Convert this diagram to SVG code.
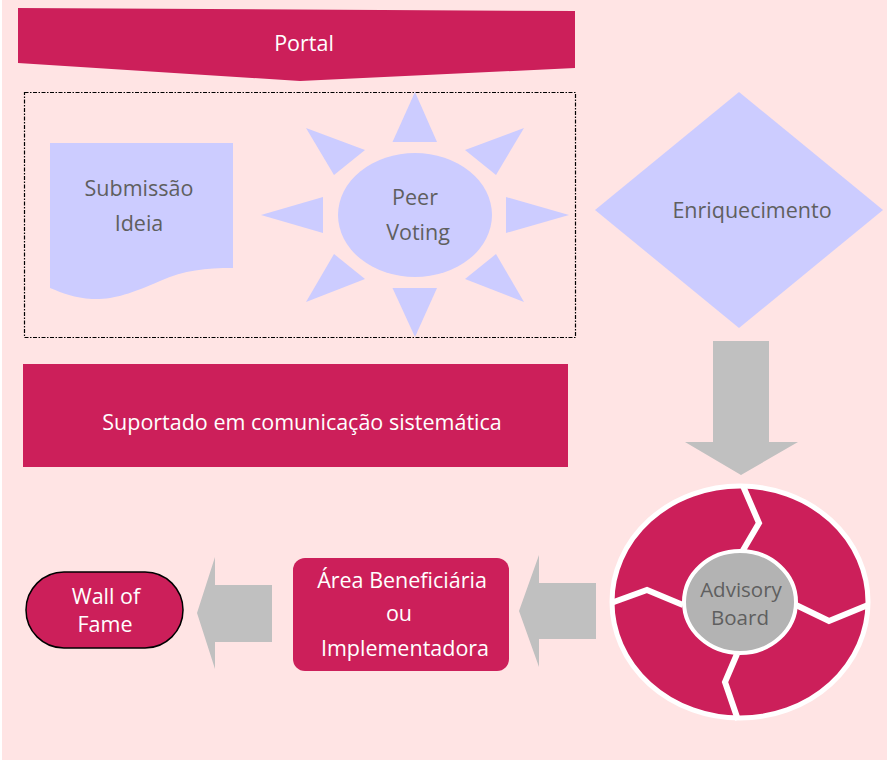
<svg xmlns="http://www.w3.org/2000/svg" width="887" height="761" viewBox="0 0 887 761">
<style>
.crim{fill:#CC1F5A}
.lav{fill:#CCCCFF}
.arr{fill:#C0C0C0}
text{font-family:"Open Sans","DejaVu Sans","Liberation Sans",sans-serif;text-anchor:middle;font-size:21.5px}
.w{fill:#FFFFFF}
.g{fill:#5F5F5F}
.sm{font-size:20.5px}
.sep{fill:none;stroke:#FFFFFF;stroke-width:6;stroke-linejoin:miter}
</style>
<rect x="0" y="0" width="887" height="761" fill="#FFFFFF"/>
<rect x="2" y="0" width="885" height="760" fill="#FFE4E4"/>

<g id="portal">
<polygon class="crim" points="18,8 575,11 575,68 300,81 18,63"/>
<text class="w" x="304" y="51">Portal</text>
</g>

<g id="group-box">
<rect x="24.5" y="92.5" width="551" height="245" fill="none" stroke="#000" stroke-width="1.2" stroke-dasharray="4,1.5,1.5,1.5"/>
</g>

<g id="submissao">
<path class="lav" d="M50,143 H233 V268 C205,268 185,270 160,281 C130,294 112,300 92,299 C75,298 62,293 50,288 Z"/>
<text class="g" x="139" y="196">Submissão</text>
<text class="g" x="139" y="231">Ideia</text>
</g>

<g id="peer-voting">
<polygon class="lav" points="415,92 392.5,142 437,142"/>
<polygon class="lav" points="415,337 392.5,288 437,288"/>
<polygon class="lav" points="261,215 323,197 323,233"/>
<polygon class="lav" points="569,215 506,197 506,233"/>
<polygon class="lav" points="306,128 365,150 334,175"/>
<polygon class="lav" points="524,128 465,150 496,175"/>
<polygon class="lav" points="334,254 365,279 306,302"/>
<polygon class="lav" points="496,254 465,279 524,302"/>
<ellipse class="lav" cx="415" cy="215" rx="77" ry="62"/>
<text class="g" x="415" y="205">Peer</text>
<text class="g" x="418" y="240">Voting</text>
</g>

<g id="enriquecimento">
<polygon class="lav" points="739,92 883,210 739,328 595,210"/>
<text class="g" x="752" y="218">Enriquecimento</text>
</g>

<g id="suportado">
<rect class="crim" x="23" y="364" width="545" height="103"/>
<text class="w" x="302" y="430">Suportado em comunicação sistemática</text>
</g>

<g id="advisory-board">
<ellipse class="crim" cx="740" cy="602" rx="128" ry="116" stroke="#FFFFFF" stroke-width="5"/>
<polyline class="sep" points="743,486 759,523 742,552"/>
<polyline class="sep" points="796,605 829,621 868,605"/>
<polyline class="sep" points="737,654 725,682 738,720"/>
<polyline class="sep" points="611,603 647,590 683,605"/>
<ellipse cx="740" cy="602" rx="56" ry="51" fill="#B3B3B3" stroke="#FFFFFF" stroke-width="4"/>
<text class="g sm" x="741" y="597">Advisory</text>
<text class="g sm" x="740" y="625">Board</text>
</g>

<g id="area">
<rect class="crim" x="293" y="558" width="216" height="113" rx="12"/>
<text class="w" x="402" y="588">Área Beneficiária</text>
<text class="w" x="399" y="621">ou</text>
<text class="w" x="405" y="656">Implementadora</text>
</g>

<g id="wall-of-fame">
<rect class="crim" x="26" y="572" width="157" height="76" rx="38" ry="38" stroke="#000" stroke-width="1.5"/>
<text class="w" x="106" y="604">Wall of</text>
<text class="w" x="105" y="632">Fame</text>
</g>

<g id="connectors">
<polygon class="arr" points="713,341 769,341 769,442 798,442 741,475 685,442 713,442"/>
<polygon class="arr" points="596,583 539,583 539,555 519,611 539,667 539,639 596,639"/>
<polygon class="arr" points="272,585 215,585 215,557 197,613 215,669 215,642 272,642"/>
</g>
</svg>
